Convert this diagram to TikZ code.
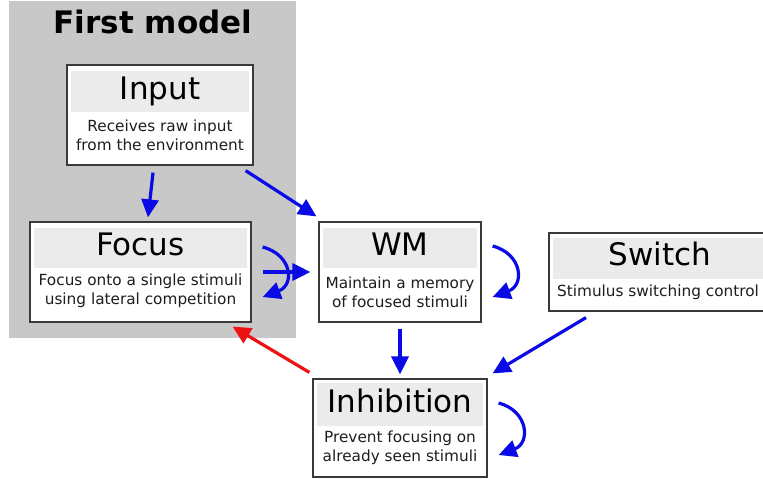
\documentclass[tikz,border=0pt]{standalone}
\usepackage{fontspec}
\setmainfont{DejaVu Sans}
\usetikzlibrary{arrows.meta}
\definecolor{panel}{HTML}{C8C8C8}
\definecolor{bandgray}{HTML}{EBEBEB}
\definecolor{frame}{HTML}{3A3A3A}
\definecolor{desctext}{HTML}{1E1E1E}
\definecolor{arrowblue}{HTML}{0A0AE6}
\definecolor{arrowred}{HTML}{EE1111}
\begin{document}
\begin{tikzpicture}[x=1pt,y=-1pt,
  box/.style={draw=frame, line width=1.2pt, fill=white, inner sep=0pt},
  band/.style={fill=bandgray, inner sep=0pt, minimum height=41pt},
  title/.style={font=\fontsize{31}{37}\selectfont, text=black, inner sep=0pt, anchor=base},
  desc/.style={font=\fontsize{15.3}{18.8}\selectfont, align=center, inner sep=0pt, text=desctext},
  arr/.style={draw=arrowblue, line width=3.2pt, -{Triangle[length=18pt,width=17pt]}},
  redarr/.style={draw=arrowred, line width=3.2pt, -{Triangle[length=18pt,width=17pt]}}]
\clip (0,0) rectangle (763,479);
\fill[white] (0,0) rectangle (763,479);
% panel
\fill[panel] (9,1) rectangle (296,338);
\node[font=\bfseries\fontsize{31}{37}\selectfont, inner sep=0pt] (paneltitle) at (153,22) {First model};
% Input
\node[box, minimum width=186pt, minimum height=100pt] (input) at (160,115) {};
\node[band, minimum width=178pt] (inputband) at (160,91) {};
\node[title] (inputtitle) at (160,99.5) {Input};
\node[desc] (inputdesc) at (160,135) {Receives raw input\\from the environment};
% Focus
\node[box, minimum width=221pt, minimum height=100pt] (focus) at (140.5,272) {};
\node[band, minimum width=213pt, minimum height=40pt] (focusband) at (140.5,248) {};
\node[title] (focustitle) at (140.5,255) {Focus};
\node[desc] (focusdesc) at (140.5,290.5) {Focus onto a single stimuli\\using lateral competition};
% WM
\node[box, minimum width=162pt, minimum height=100pt] (wm) at (400,272) {};
\node[band, minimum width=154pt, minimum height=40pt] (wmband) at (400,248) {};
\node[title] (wmtitle) at (400,255) {WM};
\node[desc] (wmdesc) at (400,292) {Maintain a memory\\of focused stimuli};
% Switch
\node[box, minimum width=218pt, minimum height=78pt] (switch) at (658,272) {};
\node[band, minimum width=210pt] (switchband) at (658,258.5) {};
\node[title] (switchtitle) at (660,265.5) {Switch};
\node[desc] (switchdesc) at (658,292) {Stimulus switching control};
% Inhibition
\node[box, minimum width=174pt, minimum height=98pt] (inhib) at (400,428) {};
\node[band, minimum width=166pt, minimum height=43pt] (inhibband) at (400,404.5) {};
\node[title] (inhibtitle) at (400,412) {Inhibition};
\node[desc] (inhibdesc) at (400,448) {Prevent focusing on\\already seen stimuli};
% arrows
\draw[arr] ([xshift=-7pt,yshift=-7pt]input.south) -- ([xshift=7.5pt,yshift=4pt]focus.north);
\draw[arr] ([xshift=-8pt,yshift=-5pt]input.south east) -- ([xshift=-2pt,yshift=5pt]wm.north west);
\draw[arr] ([xshift=11pt]focus.east) -- ([xshift=-8pt]wm.west);
\draw[arr] ([xshift=11pt,yshift=25pt]focus.east) .. controls +(30,8) and +(32,-12) .. ([xshift=11pt,yshift=-25pt]focus.east);
\draw[arr] ([xshift=11pt,yshift=26pt]wm.east) .. controls +(30,8) and +(32,-12) .. ([xshift=11pt,yshift=-25pt]wm.east);
\draw[arr] ([xshift=11pt,yshift=25pt]inhib.east) .. controls +(30,8) and +(32,-12) .. ([xshift=11pt,yshift=-27pt]inhib.east);
\draw[arr] ([yshift=-6pt]wm.south) -- ([yshift=4pt]inhib.north);
\draw[arr] ([xshift=-72pt,yshift=-6pt]switch.south) -- ([xshift=5pt,yshift=5pt]inhib.north east);
\draw[redarr] ([xshift=-3pt,yshift=6pt]inhib.north west) -- ([xshift=-19pt,yshift=-4pt]focus.south east);
\end{tikzpicture}
\end{document}
